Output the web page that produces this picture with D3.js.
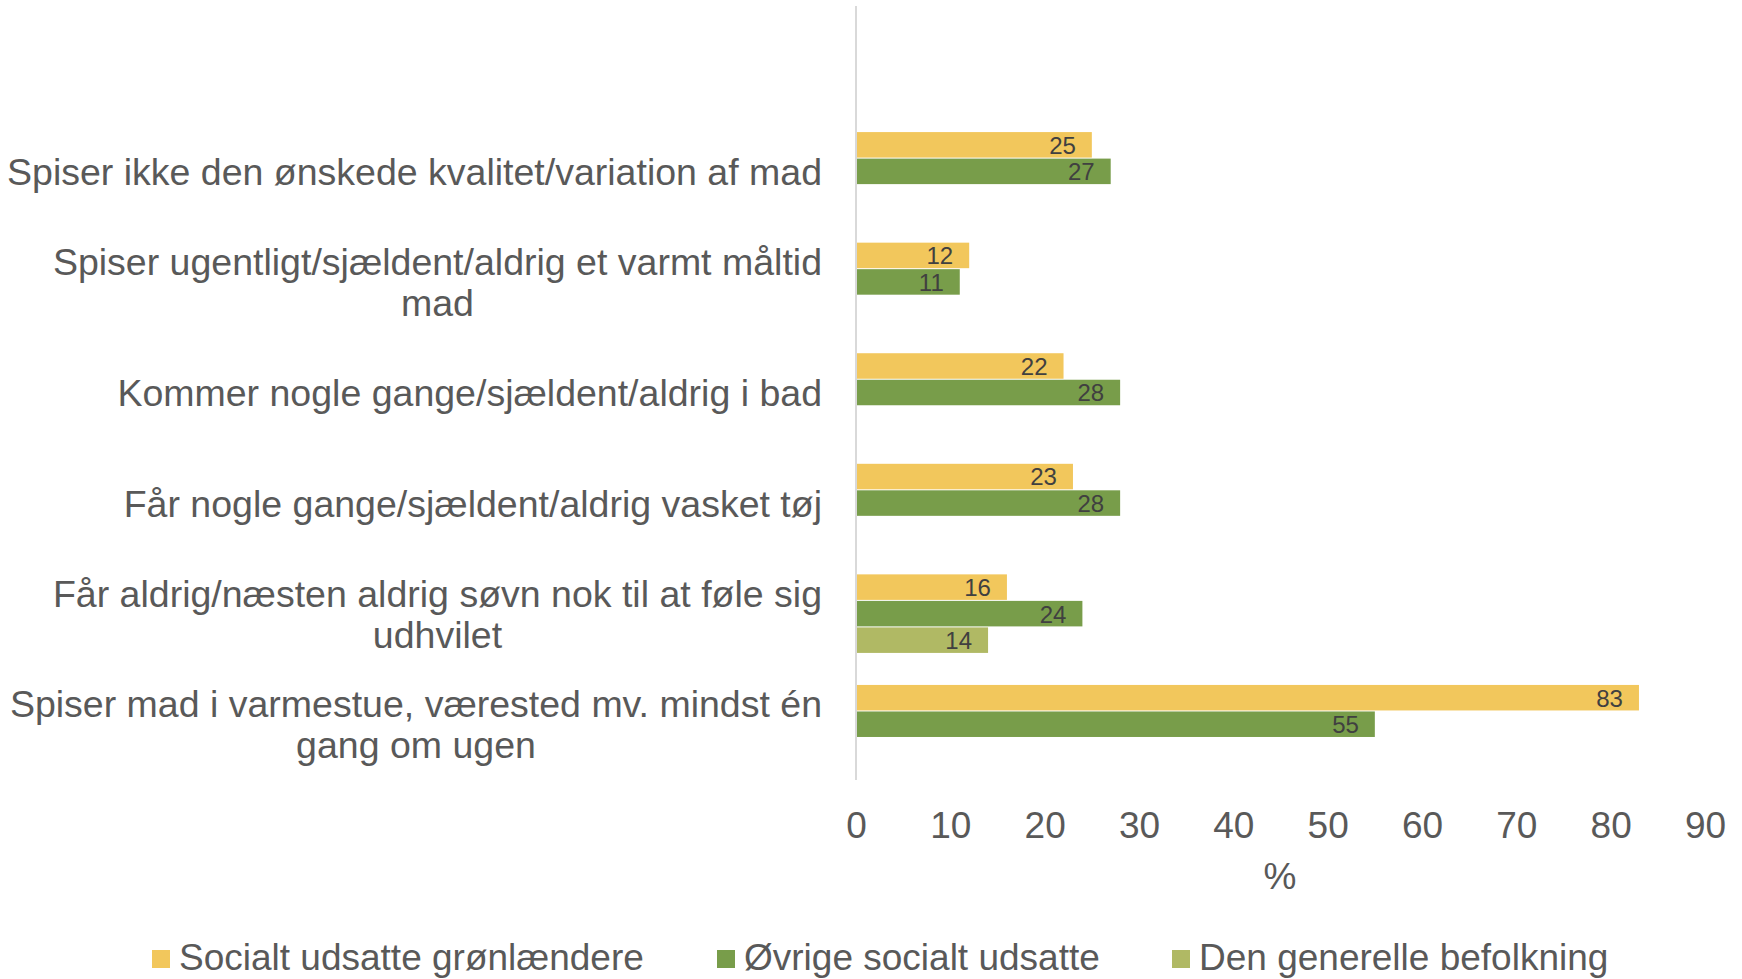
<!DOCTYPE html>
<html>
<head>
<meta charset="utf-8">
<script src="https://cdn.jsdelivr.net/npm/d3@7"></script>
<style>
  body { margin: 0; background: #fff; }
  text { font-family: "Liberation Sans", Arial, sans-serif; }
</style>
</head>
<body>
<svg id="viz"></svg>
<script>
// categories, top to bottom (first one is empty in the source chart)
var categories = [
    [""],
    ["Spiser ikke den ønskede kvalitet/variation af mad"],
    ["Spiser ugentligt/sjældent/aldrig et varmt måltid", "mad"],
    ["Kommer nogle gange/sjældent/aldrig i bad"],
    ["Får nogle gange/sjældent/aldrig vasket tøj"],
    ["Får aldrig/næsten aldrig søvn nok til at føle sig", "udhvilet"],
    ["Spiser mad i varmestue, værested mv. mindst én", "gang om ugen"]
];
var seriesNames = ["Socialt udsatte grønlændere", "Øvrige socialt udsatte", "Den generelle befolkning"];
var seriesColors = ["#f2c75c", "#789d4a", "#b0b964"];
var gronlaendere = [null, 25, 12, 22, 23, 16, 83];
var ovrige = [null, 27, 11, 28, 28, 24, 55];
var befolkning = [null, null, null, null, null, 14, null];
var xTicks = [0, 10, 20, 30, 40, 50, 60, 70, 80, 90];

var width = 1742, height = 979;
var textColor = "#595959";
var svg = d3.select("#viz").attr("width", width).attr("height", height);

var x = d3.scaleLinear().domain([0, 90]).range([856, 1705]);
var catKeys = categories.map(function (d, i) { return i; });
var y0 = d3.scaleBand().domain(catKeys).range([6, 780]).padding(0);
var y1 = d3.scaleBand().domain([0, 1, 2]).range([0, y0.bandwidth()]).paddingOuter(0.585).paddingInner(0);

var values = [gronlaendere, ovrige, befolkning];
var bars = [];
values.forEach(function (arr, s) {
    arr.forEach(function (v, i) {
        if (v !== null) bars.push({ cat: i, s: s, v: v });
    });
});

// bars
svg.append("g").attr("class", "bars")
    .selectAll("rect")
    .data(bars)
    .enter()
    .append("rect")
    .attr("x", x(0))
    .attr("y", function (d) { return y0(d.cat) + y1(d.s); })
    .attr("width", function (d) { return x(d.v) - x(0); })
    .attr("height", y1.bandwidth() - 1)
    .attr("fill", function (d) { return seriesColors[d.s]; });

// data labels (inside end)
svg.append("g").attr("class", "labels")
    .selectAll("text")
    .data(bars)
    .enter()
    .append("text")
    .attr("x", function (d) { return x(d.v) - 16; })
    .attr("y", function (d) { return y0(d.cat) + y1(d.s) + y1.bandwidth() / 2; })
    .attr("dy", "0.35em")
    .attr("text-anchor", "end")
    .style("font-size", "24px")
    .style("fill", "#404040")
    .text(function (d) { return d.v; });

// vertical axis line
svg.append("line")
    .attr("x1", x(0)).attr("x2", x(0))
    .attr("y1", 6).attr("y2", 780)
    .attr("stroke", "#d9d9d9")
    .attr("stroke-width", 2);

// category labels
var catG = svg.append("g").attr("class", "cats")
    .selectAll("text")
    .data(categories)
    .enter()
    .append("text")
    .style("font-size", "37.5px")
    .style("fill", textColor)
    .attr("text-anchor", "middle");

catG.each(function (lines, i) {
    var t = d3.select(this);
    var cy = y0(i) + y0.bandwidth() / 2;
    var lh = 41;
    lines.forEach(function (line, k) {
        t.append("tspan")
            .attr("x", 0)
            .attr("y", cy + (k - (lines.length - 1) / 2) * lh)
            .attr("dy", "0.35em")
            .text(line);
    });
    // right align the block, center lines within it
    var w = this.getBBox().width;
    t.selectAll("tspan").attr("x", 822 - w / 2);
});

// x axis tick labels
var xAxis = d3.axisBottom(x).tickValues(xTicks).tickSize(0).tickPadding(0);
var gx = svg.append("g").attr("transform", "translate(0,838)").call(xAxis);
gx.select(".domain").remove();
gx.selectAll("text")
    .attr("dy", 0)
    .attr("y", 0)
    .style("font-size", "37px")
    .style("font-family", "'Liberation Sans', Arial, sans-serif")
    .style("fill", textColor);

svg.append("text")
    .attr("x", 1280).attr("y", 889)
    .attr("text-anchor", "middle")
    .style("font-size", "37px")
    .style("fill", textColor)
    .text("%");

// legend
var legendX = [152, 717, 1172];
var legend = svg.append("g").attr("class", "legend")
    .selectAll("g")
    .data(seriesNames)
    .enter()
    .append("g")
    .attr("transform", function (d, i) { return "translate(" + legendX[i] + ",950)"; });
legend.append("rect")
    .attr("width", 18).attr("height", 18)
    .attr("fill", function (d, i) { return seriesColors[i]; });
legend.append("text")
    .attr("x", 27).attr("y", 20)
    .style("font-size", "37px")
    .style("fill", textColor)
    .text(function (d) { return d; });
</script>
</body>
</html>
